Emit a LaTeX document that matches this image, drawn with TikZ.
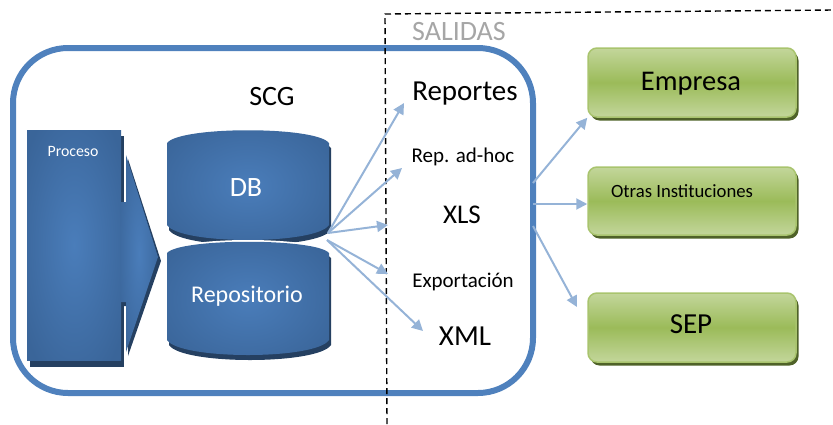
\documentclass[tikz,border=0pt]{standalone}
\usepackage{fontspec}
\setmainfont{Carlito}
\usetikzlibrary{arrows.meta,shadows}
\definecolor{boxblue}{HTML}{4F81BD}
\definecolor{arrblue}{HTML}{95B3D7}
\definecolor{dkblue}{HTML}{254061}
\definecolor{midblue}{HTML}{4A7DBA}
\definecolor{edgeblue}{HTML}{365F91}
\definecolor{lgreen}{HTML}{C3D69B}
\definecolor{mgreen}{HTML}{9BBB59}
\definecolor{bgreen}{HTML}{A9C46E}
\definecolor{dgreen}{HTML}{4F6228}
\definecolor{grayt}{HTML}{A6A6A6}
\pgfdeclareradialshading{bluerad}{\pgfpoint{0bp}{0bp}}{color(0bp)=(midblue); color(32bp)=(edgeblue!80!midblue); color(60bp)=(edgeblue); color(75bp)=(edgeblue)}
\newcommand\fs[1]{\fontsize{#1}{#1}\selectfont}
\tikzset{
  arr/.style={draw=arrblue, line width=2pt, -{Triangle[length=11pt,width=11pt]}},
  lbl/.style={anchor=base, inner sep=0pt},
  gbox/.style={draw=bgreen, line width=1.5pt, rounded corners=9pt, top color=lgreen, bottom color=lgreen, middle color=mgreen, minimum width=208pt, drop shadow={shadow xshift=2.5pt, shadow yshift=-3.5pt, fill=dgreen, opacity=1}},
  blueshade/.style={shading=bluerad}
}
\begin{document}
\begin{tikzpicture}[x=1pt,y=-1pt]
\useasboundingbox (0,0) rectangle (833,424);
% main system box
\node[draw=boxblue, line width=6pt, rounded corners=55pt, minimum width=520pt, minimum height=345pt, inner sep=0pt] (sys) at (273,220.5) {};
% Proceso block
\fill[dkblue] (30,136) rectangle (124,367);
\node[shading=bluerad, minimum width=94pt, minimum height=230pt, inner sep=0pt] (proc) at (74,245) {};
\node[lbl, text=white] (proctxt) at (73,156) {\fs{15.8}Proceso};
\fill[dkblue] (122,206) -- (128,206) -- (128,159) -- (161,261) -- (128,356) -- (128,306) -- (122,306) -- cycle;
\shade[blueshade] (120,202) -- (126,202) -- (126,155) -- (158,257) -- (126,352) -- (126,302) -- (120,302) -- cycle;
% DB cylinder
\fill[dkblue] (169,148) .. controls (182,131) and (318,131) .. (331,148) -- (331,230) .. controls (318,250) and (182,250) .. (169,230) -- cycle;
\shade[blueshade] (167,143) .. controls (180,126) and (316,126) .. (329,143) -- (329,225) .. controls (316,245) and (180,245) .. (167,225) -- cycle;
\node[lbl, text=white] (db) at (246,196) {\fs{28}DB};
% Repositorio cylinder
\fill[white] (166,252) .. controls (179,236) and (317,236) .. (330,252) -- (330,256) -- (166,256) -- cycle;
\fill[dkblue] (169,258) .. controls (182,243) and (318,243) .. (331,258) -- (331,345) .. controls (318,365) and (182,365) .. (169,345) -- cycle;
\shade[blueshade] (167,253) .. controls (180,238) and (316,238) .. (329,253) -- (329,340) .. controls (316,360) and (180,360) .. (167,340) -- cycle;
\node[lbl, text=white] (repo) at (247,302) {\fs{24}Repositorio};
% texts
\node[lbl] (scg) at (272,105) {\fs{28}SCG};
\node[lbl, text=grayt] (salidas) at (459,40) {\fs{28}SALIDAS};
\node[lbl] (rep) at (465,100) {\fs{29}Reportes};
\node[lbl] (adhoc) at (463,162) {\fs{21}Rep. ad-hoc};
\node[lbl] (xls) at (462,223) {\fs{27}XLS};
\node[lbl] (exp) at (463,287) {\fs{21}Exportación};
\node[lbl] (xml) at (465,345) {\fs{29}XML};
% green boxes
\node[gbox, minimum height=69pt] (emp) at (692,82.5) {};
\node[lbl] (emptxt) at (691,90) {\fs{28.5}Empresa};
\node[gbox, minimum height=68pt] (otras) at (692,201) {};
\node[lbl] (otrastxt) at (682,197) {\fs{18.7}Otras Instituciones};
\node[gbox, minimum height=69pt] (sep) at (692,327.5) {};
\node[lbl] (septxt) at (691,333) {\fs{29}SEP};
% dashed boundary
\coordinate (d0) at (387,424);
\coordinate (d1) at (385,14);
\coordinate (d2) at (833,10);
\draw[line width=1.4pt, dash pattern=on 6pt off 4pt] (d0) -- (d1) -- (d2);
% arrows
\coordinate (s1) at (328,233);
\coordinate (s2) at (327,240);
\coordinate (e1) at (404,103);
\coordinate (e2) at (402,168);
\coordinate (e3) at (388,225);
\coordinate (e4) at (388,274);
\coordinate (e5) at (423,331);
\draw[arr] (s1) -- (e1);
\draw[arr] (s1) -- (e2);
\draw[arr] (s1) -- (e3);
\draw[arr] (s2) -- (e4);
\draw[arr] (s2) -- (e5);
\coordinate (r1) at (533,183);
\coordinate (r2) at (533,204);
\coordinate (r3) at (533,226);
\coordinate (e8) at (577,307);
\draw[arr] (r1) -- (emp.south west);
\draw[arr] (r2) -- (otras.west |- r2);
\draw[arr] (r3) -- (e8);
\end{tikzpicture}
\end{document}
